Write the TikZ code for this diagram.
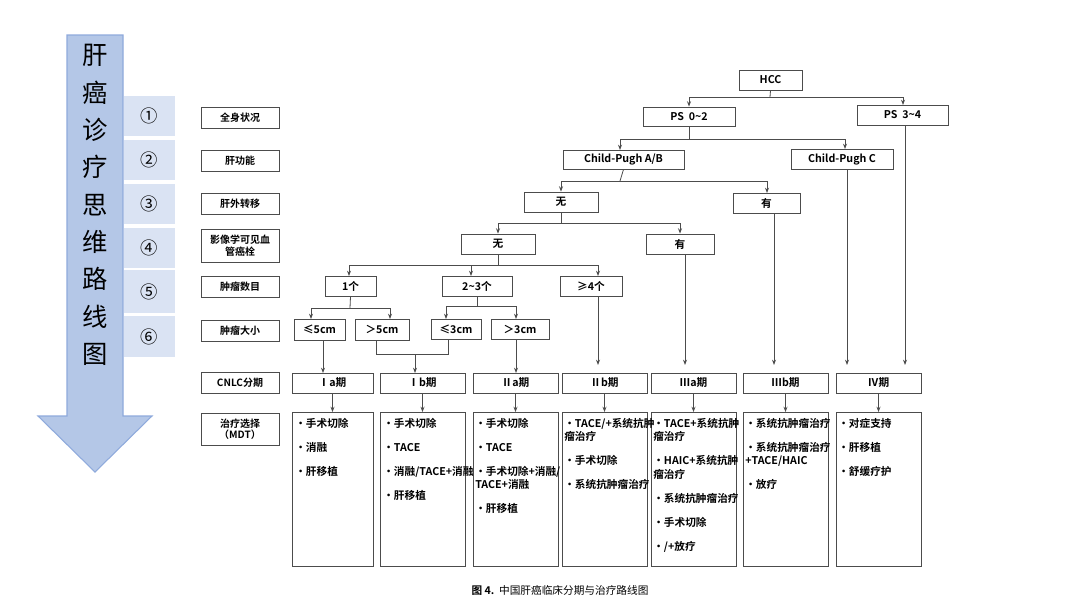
\documentclass[tikz,border=0pt]{standalone}
\usepackage{fontspec}
\setmainfont{Noto Sans CJK SC}[BoldFont={Noto Sans CJK SC Bold}]
\usetikzlibrary{arrows.meta}
\definecolor{arrfill}{RGB}{180,199,231}
\definecolor{arrline}{RGB}{143,170,220}
\definecolor{bandfill}{RGB}{218,227,243}
\begin{document}
\begin{tikzpicture}[x=0.75pt,y=-0.75pt,
  box/.style={draw=black!70,line width=0.6pt,fill=white,inner sep=0pt,font=\fontsize{8}{9}\selectfont\bfseries},
  tbox/.style={draw=black!70,line width=0.6pt},
  ln/.style={draw=black!70,line width=0.6pt},
  ar/.style={ln,-{Stealth[length=4pt,width=3pt]}},
  item/.style={anchor=north west,align=left,inner sep=0pt,font=\fontsize{8}{10}\selectfont\bfseries}]
\useasboundingbox (0,0) rectangle (1080,608);
\fill[white] (0,0) rectangle (1080,608);
% big arrow
\draw[draw=arrline,fill=arrfill,line width=0.8pt]
 (67,35) -- (123,35) -- (123,416) -- (152,416) -- (95,472) -- (38,416) -- (67,416) -- cycle;
\node[align=center,font=\fontsize{19}{28}\selectfont] (title) at (95,205) {肝\\癌\\诊\\疗\\思\\维\\路\\线\\图};
% bands
\foreach \a/\b/\t [count=\i] in {96/136/①,140/180/②,184/224/③,228/268/④,270/313/⑤,316/357/⑥}{
  \fill[bandfill] (124,\a) rectangle (175,\b);
  \node[font=\fontsize{13}{13}\selectfont] (band\i) at (149,{(\a+\b)/2}) {\t};
}
% row labels
\foreach \a/\b/\t [count=\i] in {107/128/全身状况,150/171/肝功能,193/214/肝外转移,229/262/{影像学可见血\\管癌栓},276/297/肿瘤数目,320/341/肿瘤大小,372/393/CNLC分期,413/445/{治疗选择\\（MDT）}}{
  \node[box,minimum width=58.5pt,minimum height={(\b-\a)*0.75pt},align=center,font=\fontsize{7.5}{8.5}\selectfont\bfseries] (row\i) at (240,{(\a+\b)/2}) {\t};
}
% tree nodes
\newcommand{\bx}[6]{\node[box,minimum width={(#3-#2)*0.75pt},minimum height={(#5-#4)*0.75pt}] (#1) at ({(#2+#3)/2},{(#4+#5)/2}) {#6};}
\bx{hcc}{739}{802}{70}{90}{HCC}
\bx{ps1}{643}{735}{107}{126}{PS\ \ 0\textasciitilde2}
\bx{ps2}{857}{948}{105}{125}{PS\ \ 3\textasciitilde4}
\bx{cpab}{563}{684}{150}{169}{Child-Pugh A/B}
\bx{cpc}{791}{893}{149}{169}{Child-Pugh C}
\bx{wu3}{524}{598}{192}{212}{无}
\bx{you3}{733}{800}{193}{213}{有}
\bx{wu4}{461}{535}{234}{254}{无}
\bx{you4}{646}{714}{234}{254}{有}
\bx{n1}{325}{376}{276}{296}{1个}
\bx{n23}{442}{512}{276}{296}{2\textasciitilde3个}
\bx{n4}{560}{622}{276}{296}{≥4个}
\bx{s5a}{294}{345}{319}{340}{≤5cm}
\bx{s5b}{355}{409}{319}{340}{＞5cm}
\bx{s3a}{431}{481}{319}{339}{≤3cm}
\bx{s3b}{491}{549}{319}{339}{＞3cm}
\bx{Ia}{292}{373}{373}{393}{Ⅰa期}
\bx{Ib}{380}{465}{373}{393}{Ⅰb期}
\bx{IIa}{473}{558}{373}{393}{Ⅱa期}
\bx{IIb}{562}{647}{373}{393}{Ⅱb期}
\bx{IIIa}{651}{736}{373}{393}{Ⅲa期}
\bx{IIIb}{743}{828}{373}{393}{Ⅲb期}
\bx{IV}{836}{921}{373}{393}{Ⅳ期}
% splits
\draw[ln] (hcc.south) -- (770,97); \draw[ln] (689,97) -- (903,97);
\draw[ar] (689,97) -- (ps1.north); \draw[ar] (903,97) -- (903,105);
\draw[ln] (ps1.south) -- (689,139); \draw[ln] (620,139) -- (845,139);
\draw[ar] (620,139) -- (620,150); \draw[ar] (845,139) -- (845,149);
\draw[ln] (cpab.south) -- (620,181); \draw[ln] (561,181) -- (767,181);
\draw[ar] (561,181) -- (wu3.north); \draw[ar] (767,181) -- (767,193);
\draw[ln] (wu3.south) -- (561,223); \draw[ln] (498,223) -- (680,223);
\draw[ar] (498,223) -- (wu4.north); \draw[ar] (680,223) -- (you4.north);
\draw[ln] (wu4.south) -- (498,265); \draw[ln] (349,265) -- (598,265);
\draw[ar] (349,265) -- (349,276); \draw[ar] (471,265) -- (471,276); \draw[ar] (598,265) -- (598,276);
\draw[ln] (n1.south) -- (350,308); \draw[ln] (311,308) -- (390,308);
\draw[ar] (311,308) -- (311,319); \draw[ar] (390,308) -- (390,319);
\draw[ln] (n23.south) -- (477,306); \draw[ln] (446,306) -- (516,306);
\draw[ar] (446,306) -- (446,319); \draw[ar] (516,306) -- (516,319);
\draw[ar] (323,340) -- (323,373);
\draw[ln] (376,340) -- (376,354) -- (448,354) -- (448,339);
\draw[ar] (415,354) -- (415,373);
\draw[ar] (516,339) -- (516,373);
\draw[ar] (598,296) -- (598,365);
\draw[ar] (685,254) -- (685,365);
\draw[ar] (774,213) -- (774,365);
\draw[ar] (847,169) -- (847,365);
\draw[ar] (905,125) -- (905,365);
% treatment boxes
\foreach \n/\a/\b in {Ia/292/373,Ib/380/465,IIa/473/558,IIb/562/647,IIIa/651/736,IIIb/743/828,IV/836/921}{
  \draw[tbox] (\a,412) rectangle (\b,566);
  \draw[ar] (\n.south) -- (\n.south |- 0,412);
}
\newcommand{\gap}{\\[8pt]}
\node[item] (tr1) at (295,418) {·手术切除\gap·消融\gap·肝移植};
\node[item] (tr2) at (383,418) {·手术切除\gap·TACE\gap·消融/TACE+消融\gap·肝移植};
\node[item] (tr3) at (475,418) {·手术切除\gap·TACE\gap·手术切除+消融/\\TACE+消融\gap·肝移植};
\node[item] (tr4) at (564,418) {·TACE/+系统抗肿\\瘤治疗\gap·手术切除\gap·系统抗肿瘤治疗};
\node[item] (tr5) at (653,418) {·TACE+系统抗肿\\瘤治疗\gap·HAIC+系统抗肿\\瘤治疗\gap·系统抗肿瘤治疗\gap·手术切除\gap·/+放疗};
\node[item] (tr6) at (745,418) {·系统抗肿瘤治疗\gap·系统抗肿瘤治疗\\+TACE/HAIC\gap·放疗};
\node[item] (tr7) at (838,418) {·对症支持\gap·肝移植\gap·舒缓疗护};
\node[font=\fontsize{8}{9}\selectfont] (cap) at (560,590) {\textbf{图 4.}\ \ 中国肝癌临床分期与治疗路线图};
\end{tikzpicture}
\end{document}
